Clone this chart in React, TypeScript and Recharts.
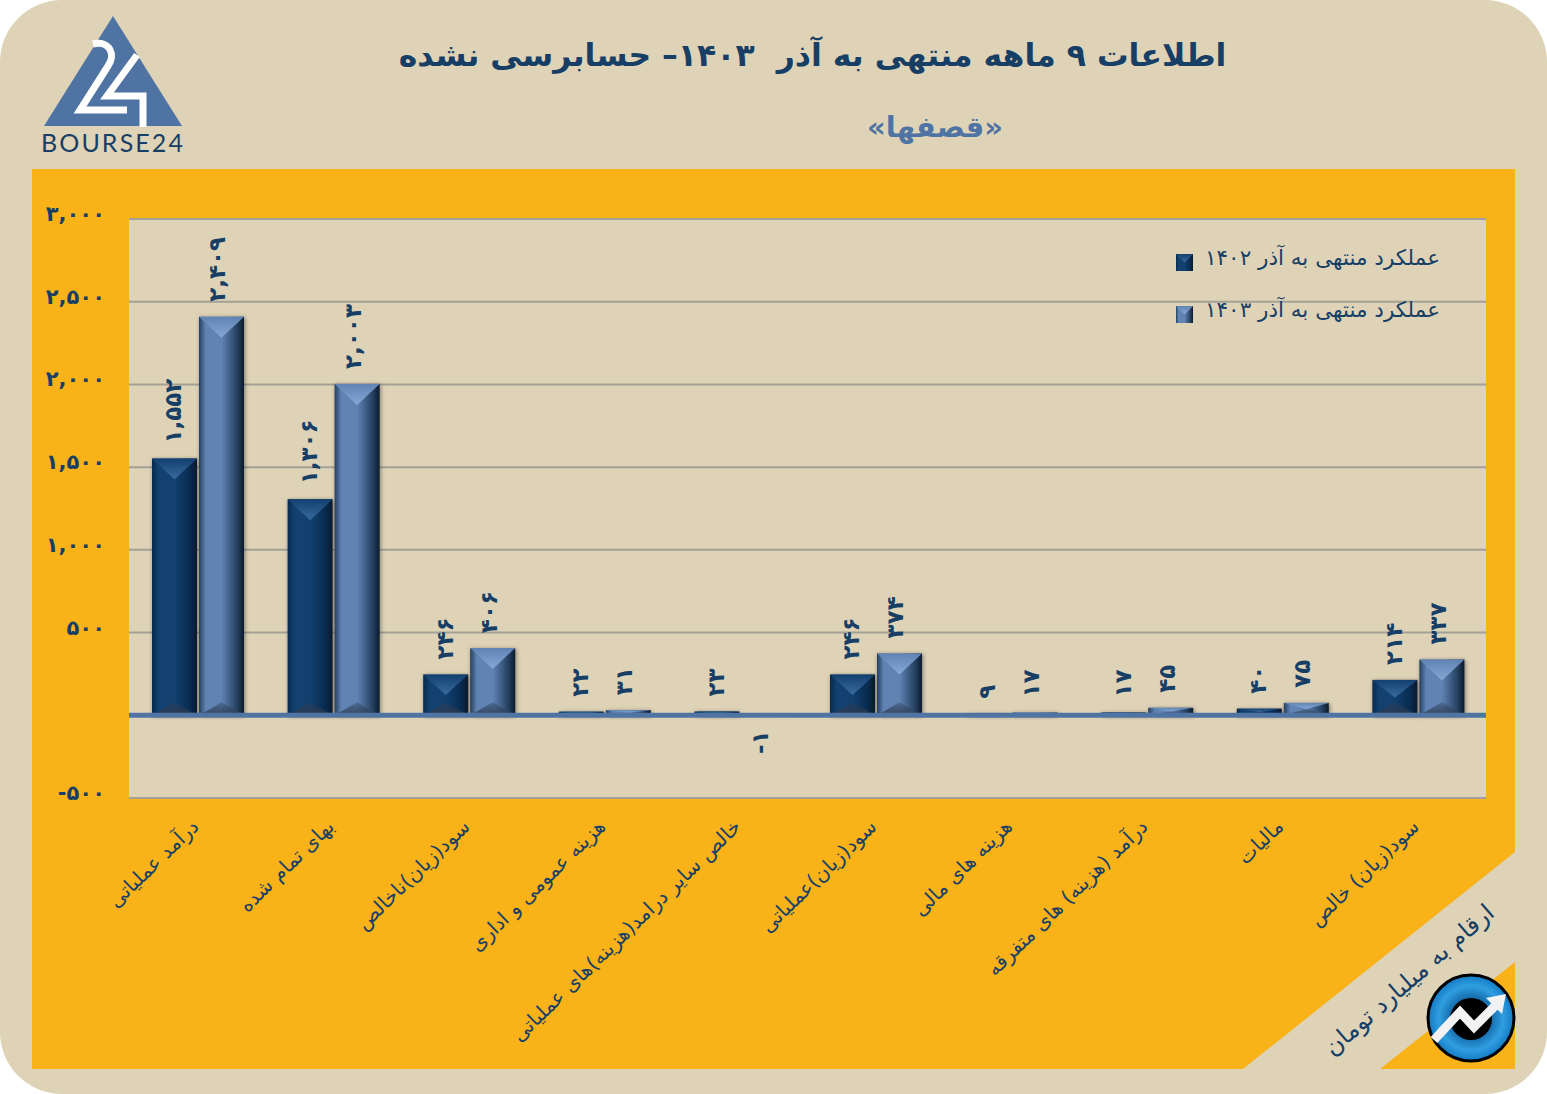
import React from 'react';
import {
  BarChart,
  Bar,
  XAxis,
  YAxis,
  CartesianGrid,
  Legend,
  LabelList,
  ReferenceLine,
} from 'recharts';

const categories = [
  'درآمد عملیاتی',
  'بهای تمام شده',
  'سود(زیان)ناخالص',
  'هزینه عمومی و اداری',
  'خالص سایر درامد(هزینه)های عملیاتی',
  'سود(زیان)عملیاتی',
  'هزینه های مالی',
  'درآمد (هزینه) های متفرقه',
  'مالیات',
  'سود(زیان) خالص',
];
const values1402 = [1552, 1306, 246, 22, 23, 246, 9, 17, 40, 214];
const values1403 = [2409, 2003, 406, 31, -1, 374, 17, 45, 75, 337];
const yTicks = [-500, 500, 1000, 1500, 2000, 2500, 3000];
const name1402 = 'عملکرد منتهی به آذر ۱۴۰۲';
const name1403 = 'عملکرد منتهی به آذر ۱۴۰۳';

const rows = categories.map((name, i) => ({
  name,
  y1402: values1402[i],
  y1403: values1403[i],
}));

const FONT = '"DejaVu Sans", sans-serif';
const NAVY = '#173f66';
const BLUE = '#4f74a3';
const SAND = '#dfd3b7';
const ORANGE = '#f9b218';

// 2409 -> ۲,۴۰۹
const toPersian = (v: number) =>
  v
    .toLocaleString('en-US')
    .replace(/\d/g, (d) => '۰۱۲۳۴۵۶۷۸۹'[Number(d)]);

const BarGradients = ({ id, edge, mid, top, bottom }: any) => (
  <>
    <linearGradient id={`${id}-body`} x1="0" y1="0" x2="1" y2="0">
      <stop offset="0" stopColor={edge} />
      <stop offset="0.15" stopColor={mid} />
      <stop offset="0.5" stopColor={mid} />
      <stop offset="0.85" stopColor={edge} />
      <stop offset="1" stopColor="#0a1a2c" />
    </linearGradient>
    <linearGradient id={`${id}-top`} x1="0" y1="0" x2="0" y2="1">
      <stop offset="0" stopColor={mid} />
      <stop offset="1" stopColor={top} />
    </linearGradient>
    <linearGradient id={`${id}-bottom`} x1="0" y1="0" x2="0" y2="1">
      <stop offset="0" stopColor={bottom} stopOpacity="0.4" />
      <stop offset="1" stopColor={bottom} />
    </linearGradient>
  </>
);

// bevelled column, the geometry comes from the bar scale
const BevelBar = (props: any) => {
  const { x, y, width, height, gradient } = props;
  const h = Math.abs(height);
  const top = Math.min(y, y + height);
  const topDepth = Math.min(21, h / 2);
  const bottomDepth = Math.min(13, h / 2);
  const cx = x + width / 2;
  const bot = top + h;
  return (
    <g style={{ filter: 'drop-shadow(1px 1px 2px rgba(40,40,40,0.55))' }}>
      <rect x={x} y={top} width={width} height={h} fill={`url(#${gradient}-body)`} />
      <polygon
        points={`${x},${top} ${x + width},${top} ${cx},${top + topDepth}`}
        fill={`url(#${gradient}-top)`}
      />
      <polygon
        points={`${x},${bot} ${x + width},${bot} ${cx},${bot - bottomDepth}`}
        fill={`url(#${gradient}-bottom)`}
      />
    </g>
  );
};

const ValueLabel = (props: any) => {
  const { x, y, width, height, value, shift } = props;
  const top = Math.min(y, y + height);
  const bottom = Math.max(y, y + height);
  const cx = x + width / 2 + shift;
  const ly = value < 0 ? bottom + 15 : top - 15;
  return (
    <text
      transform={`rotate(-90 ${cx} ${ly})`}
      x={cx}
      y={ly}
      textAnchor={value < 0 ? 'end' : 'start'}
      dominantBaseline="central"
      fontFamily={FONT}
      fontWeight="bold"
      fontSize={23}
      fill={NAVY}
    >
      {toPersian(value)}
    </text>
  );
};

const YTick = ({ y, payload }: any) => (
  <text
    x={105}
    y={y - 5}
    textAnchor="end"
    dominantBaseline="central"
    fontFamily={FONT}
    fontWeight="bold"
    fontSize={21}
    fill={NAVY}
  >
    {toPersian(payload.value)}
  </text>
);

const XTick = ({ x, y, payload }: any) => {
  const lx = x + 2;
  const ly = y + 22;
  return (
    <text
      transform={`rotate(-44 ${lx} ${ly})`}
      x={lx}
      y={ly}
      direction="rtl"
      textAnchor="start"
      fontFamily={FONT}
      fontSize={20}
      fill={NAVY}
    >
      {payload.value}
    </text>
  );
};

const LegendBox = ({ payload }: any) => (
  <div style={{ position: 'relative', width: 300, height: 90 }}>
    {(payload || []).map((item: any, i: number) => (
      <div key={item.value} style={{ position: 'absolute', left: 0, top: i * 52, height: 24 }}>
        <svg width={17} height={17} style={{ position: 'absolute', left: 0, top: 8 }}>
          <rect
            width={17}
            height={17}
            fill={i === 0 ? 'url(#s1402-body)' : 'url(#s1403-body)'}
          />
          <polygon points="0,0 17,0 8.5,8.5" fill={i === 0 ? 'url(#s1402-top)' : 'url(#s1403-top)'} />
        </svg>
        <div
          style={{
            position: 'absolute',
            left: 29,
            top: -1,
            whiteSpace: 'nowrap',
            fontFamily: FONT,
            fontSize: 21.5,
            color: NAVY,
            direction: 'rtl',
          }}
        >
          {item.value}
        </div>
      </div>
    ))}
  </div>
);

const Backdrop = () => (
  <svg width={1547} height={1094} style={{ position: 'absolute', left: 0, top: 0 }}>
    <defs>
      <radialGradient id="coin" cx="50%" cy="50%" r="50%">
        <stop offset="0.4" stopColor="#0f5f9f" />
        <stop offset="0.75" stopColor="#2f9fe0" />
        <stop offset="1" stopColor="#1279c4" />
      </radialGradient>
    </defs>
    <rect x={0} y={0} width={1547} height={1094} rx={62} ry={62} fill={SAND} />
    <polygon
      points="32,169 1515,169 1515,852 1243,1069 32,1069"
      fill={ORANGE}
    />
    <polygon points="1515,962 1515,1069 1380,1069" fill={ORANGE} />

    {/* logo */}
    <polygon points="44,126 113,16 182,126" fill={BLUE} />
    <path
      d="M93,44 C110,40 116,55 108,66 L80,110 L127,110"
      fill="none"
      stroke="#fff"
      strokeWidth={7}
    />
    <path d="M137,55 L107,96 L143,96 L143,127" fill="none" stroke="#fff" strokeWidth={7} />
    <text
      x={41}
      y={152}
      fontFamily='"Lato", sans-serif'
      fontSize={25}
      letterSpacing={2.1}
      fill={NAVY}
    >
      BOURSE24
    </text>

    {/* corner badge */}
    <circle cx={1471} cy={1018} r={43} fill="url(#coin)" stroke="#000" strokeWidth={3} />
    <circle cx={1471} cy={1019} r={21} fill="#000" />
    <polyline
      points="1434,1040 1460,1012 1474,1027 1498,1003"
      fill="none"
      stroke="#f2f2f2"
      strokeWidth={9}
    />
    <polygon points="1486,998 1506,994 1502,1014" fill="#f2f2f2" />

    <text
      transform="rotate(-41 1409 980)"
      x={1409}
      y={980}
      direction="rtl"
      textAnchor="middle"
      dominantBaseline="central"
      fontFamily={FONT}
      fontSize={24}
      fill={NAVY}
    >
      ارقام به میلیارد تومان
    </text>
  </svg>
);

export default function App() {
  return (
    <div style={{ position: 'absolute', left: 0, top: 0, width: 1547, height: 1094, overflow: 'hidden', background: '#fff' }}>
      <Backdrop />
      <div
        style={{
          position: 'absolute',
          left: 0,
          width: 1625,
          top: 37,
          textAlign: 'center',
          direction: 'rtl',
          whiteSpace: 'pre',
          fontFamily: FONT,
          fontWeight: 'bold',
          fontSize: 31.5,
          color: NAVY,
        }}
      >
        {'اطلاعات ۹ ماهه منتهی به آذر  ۱۴۰۳– حسابرسی نشده'}
      </div>
      <div
        style={{
          position: 'absolute',
          left: 0,
          width: 1870,
          top: 110,
          textAlign: 'center',
          direction: 'rtl',
          fontFamily: FONT,
          fontWeight: 'bold',
          fontSize: 29,
          color: BLUE,
        }}
      >
        «قصفها»
      </div>
      <div style={{ position: 'absolute', left: 0, top: 0 }}>
        <BarChart
          width={1547}
          height={1094}
          data={rows}
          margin={{ top: 219, right: 61, left: 69, bottom: 176 }}
          barSize={45}
          barGap={2}
        >
          <defs>
            <BarGradients id="s1402" edge="#082a4e" mid="#12406f" top="#3a6b9e" bottom="#2a3a52" />
            <BarGradients id="s1403" edge="#24405f" mid="#6083b3" top="#86a8d6" bottom="#33465f" />
          </defs>
          <CartesianGrid
            vertical={false}
            stroke="#a3a196"
            strokeWidth={2}
            fill={SAND}
            fillOpacity={1}
          />
          <XAxis
            dataKey="name"
            axisLine={false}
            tickLine={false}
            height={30}
            interval={0}
            padding={{ left: 1, right: 0 }}
            tick={<XTick />}
          />
          <YAxis
            width={60}
            domain={[-500, 3000]}
            ticks={yTicks}
            axisLine={false}
            tickLine={false}
            tick={<YTick />}
          />
          <Legend
            content={<LegendBox />}
            wrapperStyle={{ left: 1176, top: 246, width: 300, height: 90, bottom: 'auto' }}
          />
          <Bar
            dataKey="y1402"
            name={name1402}
            fill="#12406f"
            isAnimationActive={false}
            shape={<BevelBar gradient="s1402" />}
          >
            <LabelList dataKey="y1402" content={<ValueLabel shift={-1} />} />
          </Bar>
          <Bar
            dataKey="y1403"
            name={name1403}
            fill="#6083b3"
            isAnimationActive={false}
            shape={<BevelBar gradient="s1403" />}
          >
            <LabelList dataKey="y1403" content={<ValueLabel shift={-4} />} />
          </Bar>
          <ReferenceLine y={0} stroke={BLUE} strokeWidth={5} />
        </BarChart>
      </div>
    </div>
  );
}
